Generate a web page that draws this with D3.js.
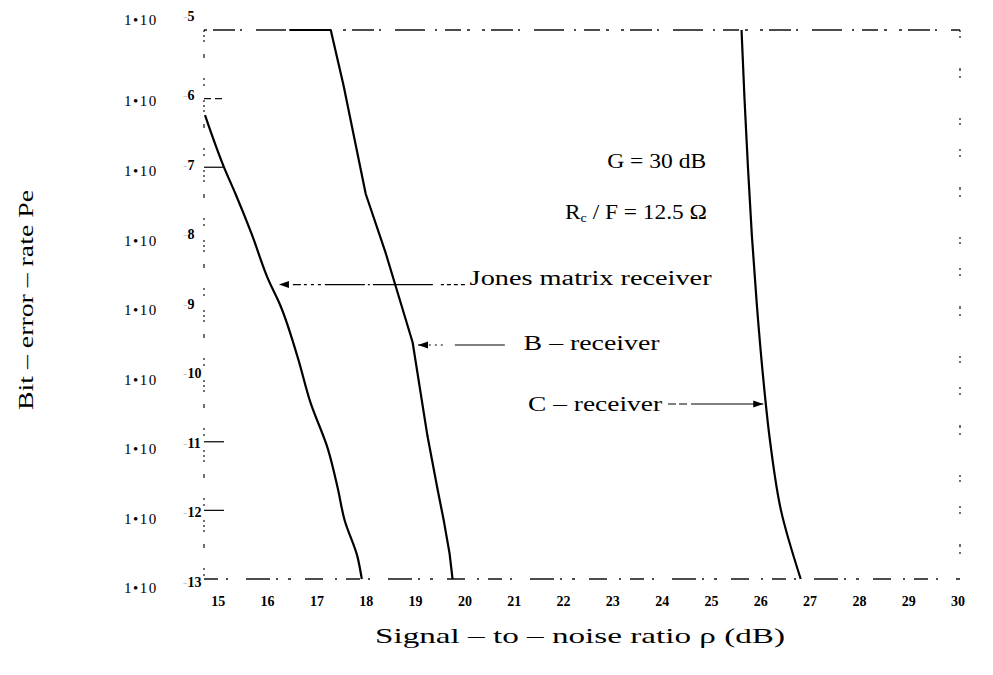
<!DOCTYPE html>
<html><head><meta charset="utf-8">
<script src="https://cdn.jsdelivr.net/npm/d3@7"></script>
<style>
html,body{margin:0;padding:0;background:#fff;}
svg{display:block;}
text{font-family:"Liberation Serif","DejaVu Serif",serif;fill:#000;}
</style></head>
<body>
<svg id="chart" width="993" height="675"></svg>
<script>
// ---- data ----
const xTickValues = [15,16,17,18,19,20,21,22,23,24,25,26,27,28,29,30];
const yExponents = [5,6,7,8,9,10,11,12,13];
// series: [SNR dB, log10(Pe)]
const jonesSNR = [14.74,15.12,15.36,15.68,16.02,16.26,16.62,16.88,17.23,17.43,17.57,17.83,17.92];
const jonesLogPe = [-6.24,-6.99,-7.39,-7.96,-8.63,-9.0,-9.77,-10.43,-11.1,-11.67,-12.14,-12.67,-13];
const bSNR = [16.45,17.29,17.55,18.0,18.4,18.95,19.25,19.45,19.58,19.7,19.76];
const bLogPe = [-5,-5,-5.81,-7.39,-8.24,-9.55,-10.91,-11.67,-12.14,-12.63,-13];
const cSNR = [25.62,25.68,25.75,25.83,25.93,26.05,26.2,26.42,26.82];
const cLogPe = [-5,-6,-7,-8,-9,-10,-11,-12,-13];

const svg = d3.select("#chart");
const x = d3.scaleLinear().domain([14.72, 30.05]).range([204, 960]);
const y = d3.scaleLog().domain([1e-5, 1e-13]).range([30, 579]);
const P = e => Math.pow(10, e);

// ---- frame (scanned-looking dashed box) ----
const frame = svg.append("g").attr("stroke","#111").attr("fill","none");
frame.append("line").attr("x1",x(14.72)).attr("x2",x(30.05)).attr("y1",y(1e-5)).attr("y2",y(1e-5))
  .attr("stroke-width",1.3).attr("stroke-dasharray","3,6,22,5,2,14,30,10,2,8,16,6,3,12");
frame.append("line").attr("x1",x(14.72)).attr("x2",x(30.05)).attr("y1",y(1e-13)).attr("y2",y(1e-13))
  .attr("stroke-width",1.3).attr("stroke-dasharray","14,8,2,18,24,6,2,10,3,14,18,12,2,9");
frame.append("line").attr("x1",x(14.72)).attr("x2",x(14.72)).attr("y1",y(1e-5)).attr("y2",y(1e-13))
  .attr("stroke-width",1.2).attr("stroke-dasharray","2,3,2,3,2,12,4,20,2,4,2,14");
frame.append("line").attr("x1",x(30.05)).attr("x2",x(30.05)).attr("y1",y(1e-5)).attr("y2",y(1e-13))
  .attr("stroke-width",1.2).attr("stroke-dasharray","2,4,2,30,3,5,2,40,2,3,2,24");
[1e-6,1e-7,1e-11,1e-12].forEach((v,i)=>{
  frame.append("line").attr("x1",x(14.72)).attr("x2",x(14.72)+ (i===0?18:20))
    .attr("y1",y(v)).attr("y2",y(v)).attr("stroke-width",1.3)
    .attr("stroke-dasharray", i===0?"7,4,7":null);
});

// ---- axes labels ----
const xAxis = d3.axisBottom(x).tickValues(xTickValues).tickSize(0).tickFormat(d3.format("d"));
const gx = svg.append("g").attr("transform",`translate(0,${y(1e-13)+14})`).call(xAxis);
gx.select(".domain").remove();
gx.selectAll("text").attr("font-family","Liberation Serif").attr("font-size",14)
  .attr("font-weight","bold").attr("fill","#111");

// y tick labels sit slightly below their decade (scanned Mathcad layout)
const yLab = d3.scaleLog().domain([1e-6, 1e-13]).range([103, 590]);
const yl = svg.append("g");
yExponents.forEach((e,i)=>{
  const yy = i === 0 ? y(P(-e)) - 8 : yLab(P(-e));
  yl.append("text").attr("x",141).attr("y",yy).attr("text-anchor","middle")
    .attr("dominant-baseline","middle").attr("font-size",15).attr("letter-spacing",1.5).text("1•10");
  const t = yl.append("text").attr("x",183).attr("y",yy-(i===0?4:6))
    .attr("dominant-baseline","middle").attr("font-size",14).attr("font-weight","bold");
  t.append("tspan").attr("fill","#aaa").attr("font-size",8).text("−");
  t.append("tspan").text(e);
});

svg.append("text").attr("transform",`translate(33,300) rotate(-90)`)
  .attr("text-anchor","middle").attr("font-size",22)
  .attr("textLength",220).attr("lengthAdjust","spacingAndGlyphs").text("Bit – error – rate Pe");
svg.append("text").attr("x",580).attr("y",643)
  .attr("text-anchor","middle").attr("font-size",22)
  .attr("textLength",410).attr("lengthAdjust","spacingAndGlyphs").text("Signal – to – noise ratio ρ (dB)");

// ---- curves ----
const line = d3.line().curve(d3.curveMonotoneY).x(d=>x(d[0])).y(d=>y(P(d[1])));
const lineLin = d3.line().x(d=>x(d[0])).y(d=>y(P(d[1])));
const series = [
  d3.zip(jonesSNR, jonesLogPe),
  d3.zip(bSNR, bLogPe),
  d3.zip(cSNR, cLogPe)
];
svg.append("g").selectAll("path").data(series).join("path")
  .attr("d",(d,i)=> i===1 ? lineLin(d) : line(d)).attr("fill","none").attr("stroke","#000").attr("stroke-width",2.2)
  .attr("stroke-linejoin","round");

// ---- annotations ----
const ann = svg.append("g");
function label(txt, cxDb, logPe, len){
  return ann.append("text").attr("x",x(cxDb)).attr("y",y(P(logPe))).attr("text-anchor","middle")
    .attr("dominant-baseline","middle").attr("font-size",20)
    .attr("textLength",len).attr("lengthAdjust","spacingAndGlyphs").text(txt);
}
label("G = 30 dB", 23.9, -6.95, 99);
const rc = ann.append("text").attr("x",x(23.48)).attr("y",y(P(-7.68))).attr("text-anchor","middle")
  .attr("dominant-baseline","middle").attr("font-size",20)
  .attr("textLength",142).attr("lengthAdjust","spacingAndGlyphs");
rc.append("tspan").text("R");
rc.append("tspan").attr("font-size",12).attr("dy",5).text("c");
rc.append("tspan").attr("dy",-5).text(" / F = 12.5 Ω");
label("Jones matrix receiver", 22.56, -8.65, 242);
label("B – receiver", 22.58, -9.59, 136);
label("C – receiver", 22.65, -10.49, 134);

function arrow(x1,x2,yy,dash){
  ann.append("line").attr("x1",x1).attr("x2",x2).attr("y1",yy).attr("y2",yy)
    .attr("stroke","#000").attr("stroke-width",1.2).attr("stroke-dasharray",dash||null);
  const dir = x2 > x1 ? 1 : -1;
  ann.append("path").attr("d",`M${x2},${yy} L${x2-dir*10},${yy-3.5} L${x2-dir*10},${yy+3.5} Z`).attr("fill","#000");
}
arrow(x(20.01), x(16.24), y(P(-8.71)), "4,3,4,3,4,3,3,8,60,3,2,3,40");
arrow(x(20.82), x(19.06), y(P(-9.59)), "50,12,2,4,2,4,2,4");
arrow(x(24.13), x(26.06), y(P(-10.45)), "8,3,8,4,80,3,10");
</script>
</body></html>
